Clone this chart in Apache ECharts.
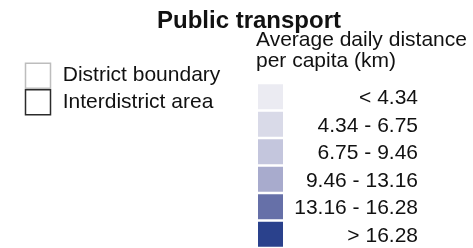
<!DOCTYPE html>
<html>
<head>
<meta charset="UTF-8">
<title>Public transport</title>
<script type="text/javascript" src="https://cdn.jsdelivr.net/npm/echarts@6/dist/echarts.min.js"></script>
<style>
	body { margin: 0; background: #fff; }
</style>
</head>
<body>
	<div id="box" style="width:473px;height:248px;"></div>
	<script type="text/javascript">
		// class legend (distance classes)
		var classLabels = ['< 4.34', '4.34 - 6.75', '6.75 - 9.46', '9.46 - 13.16', '13.16 - 16.28', '> 16.28'];
		var classColors = ['#ebebf2', '#d9dae8', '#c4c6dd', '#a8abcd', '#6670a8', '#2a418c'];
		// boundary legend
		var boundLabels = ['District boundary', 'Interdistrict area'];
		var boundBorders = ['#bdbdbd', '#2b2b2b'];

		var font = 'Liberation Sans, Arial, sans-serif';
		var mychart = echarts.init(document.getElementById('box'));

		var option = {
			animation: false,
			title: [{
				text: 'Public transport',
				left: 157,
				top: 9,
				padding: 0,
				textStyle: { fontFamily: font, fontSize: 24, fontWeight: 'bold', color: '#111' }
			}, {
				text: 'Average daily distance\nper capita (km)',
				left: 256,
				top: 29,
				padding: 0,
				textStyle: { fontFamily: font, fontSize: 21, fontWeight: 'normal', color: '#111', lineHeight: 21.5 }
			}],
			grid: [
				{ left: 270.5, top: 83, width: 1, height: 168 },
				{ left: 38, top: 62.5, width: 1, height: 53 }
			],
			xAxis: [
				{ gridIndex: 0, type: 'value', min: 0, max: 1, show: false },
				{ gridIndex: 1, type: 'value', min: 0, max: 1, show: false }
			],
			yAxis: [
				{ gridIndex: 0, type: 'category', inverse: true, data: classLabels, show: false },
				{ gridIndex: 1, type: 'category', inverse: true, data: boundLabels, show: false }
			],
			series: [{
				type: 'scatter',
				xAxisIndex: 0,
				yAxisIndex: 0,
				silent: true,
				symbol: 'rect',
				symbolSize: 25,
				itemStyle: { opacity: 1 },
				data: classLabels.map(function (l, i) {
					return { value: [0, i], itemStyle: { color: classColors[i], opacity: 1 } };
				}),
				label: {
					show: true,
					position: [160, 14],
					align: 'right',
					verticalAlign: 'middle',
					fontFamily: font,
					fontSize: 21,
					color: '#111',
					opacity: 1,
					formatter: function (p) { return classLabels[p.dataIndex]; }
				}
			}, {
				type: 'scatter',
				xAxisIndex: 1,
				yAxisIndex: 1,
				silent: true,
				symbol: 'rect',
				symbolSize: 25,
				itemStyle: { opacity: 1 },
				data: boundLabels.map(function (l, i) {
					return { value: [0, i], itemStyle: { color: '#fff', borderColor: boundBorders[i], borderWidth: 1.5, opacity: 1 } };
				}),
				label: {
					show: true,
					position: [38, 13],
					align: 'left',
					verticalAlign: 'middle',
					fontFamily: font,
					fontSize: 21,
					color: '#111',
					opacity: 1,
					formatter: function (p) { return boundLabels[p.dataIndex]; }
				}
			}]
		};
		mychart.setOption(option);
	</script>
</body>
</html>
